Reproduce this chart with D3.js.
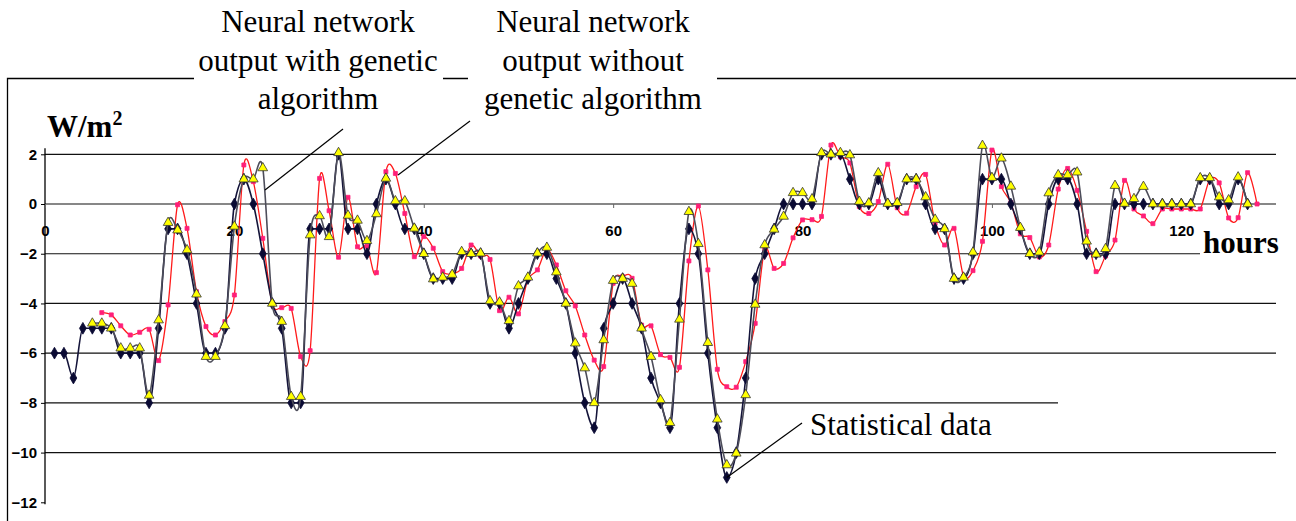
<!DOCTYPE html>
<html>
<head>
<meta charset="utf-8">
<script src="https://cdn.jsdelivr.net/npm/d3@7"></script>
<style>
  body { margin: 0; background: #fff; }
  .tick text { font-family: "Liberation Sans Narrow", "Arial Narrow", "Liberation Sans", sans-serif; font-weight: bold; font-size: 15px; fill: #000; }
  .label { font-family: "Liberation Serif", "Times New Roman", serif; font-size: 31px; fill: #000; }
</style>
</head>
<body>
<script>
// hour of the first value in each series
const statStart = 1
const gaStart = 5
const nnStart = 6

// Statistical data, hours 1..127
const statistical = [
  -6, -6, -7, -5, -5, -5, -5, -6, -6, -6,
  -8, -5, -1, -1, -2, -4, -6, -6, -5, 0,
  1, 0, -2, -4, -5, -8, -8, -1, -1, -1,
  2, -1, -1, -2, 0, 1, 0, -1, -1, -2,
  -3, -3, -3, -2, -2, -2, -4, -4, -5, -4,
  -3, -2, -2, -3, -4, -6, -8, -9, -5, -4,
  -3, -4, -5, -7, -8, -9, -4, -1, -2, -6,
  -9, -11, -10, -7, -3, -2, -1, 0, 0, 0,
  0, 2, 2, 2, 1, 0, 0, 1, 0, 0,
  1, 1, 0, -1, -1, -3, -3, -2, 1, 1,
  1, 0, -1, -2, -2, 0, 1, 1, 0, -2,
  -2, -2, 0, 0, 0, 0, 0, 0, 0, 0,
  0, 1, 1, 0, 0, 1, 0
]

// Neural network output with genetic algorithm, hours 5..127
const withGA = [
  -4.8, -4.8, -5, -5.8, -5.8, -5.8,
  -7.7, -4.67, -0.75, -1.05, -1.85, -3.63, -6.14, -6.14, -4.9, -0.9,
  1, 1, 1.45, -4, -4.73, -7.75, -7.75, -1.25, -0.48, -1.32,
  2.06, -0.46, -0.66, -1.48, -0.4, 1.03, 0.12, 0.12, -0.98, -2,
  -3.02, -2.95, -2.84, -1.92, -2, -1.98, -3.9, -3.95, -4.7, -3.3,
  -2.95, -1.98, -1.75, -2.74, -4, -5.6, -6.6, -8, -5.47, -3.08,
  -3, -3.2, -5, -6.14, -7.88, -8.8, -4.64, -0.31, -1.6, -5.58,
  -8.66, -10.5, -10.03, -7.68, -4.04, -1.65, -1.02, -0.5, 0.45, 0.45,
  0.2, 2.06, 2, 2.06, 1.97, 0.1, 0.04, 1.25, 0.02, 0.05,
  1, 1, 0.28, -0.62, -1, -3, -2.95, -1.94, 2.35, 1.06,
  1.84, 0.71, -0.95, -2, -1.94, 0.44, 1.17, 1.17, 1.28, -1.5,
  -2.02, -1.8, 0.74, 0.02, 0.21, 0.7, 0, 0, 0, 0,
  0, 1.05, 1.05, 0.28, 0.16, 1.08, 0
]

// Neural network output without genetic algorithm, hours 6..128
const withoutGA = [
  -4.37, -4.46, -4.9, -5.27, -5.16,
  -5.04, -6.3, -4.06, -0.03, -0.98, -3.53, -4.93, -5.27, -4.73, -3.66,
  1.57, 0.9, -1.38, -4.02, -4.17, -4.2, -6.14, -5.9, 1.03, -0.27,
  -2.14, 0.27, -1.72, -1.7, -2.76, 1.3, 1.23, -0.38, -2.12, -1.31,
  -1.78, -2.72, -2.8, -2.59, -1.65, -2.09, -2.23, -4.29, -3.75, -4.42,
  -3.03, -2.65, -1.82, -2.45, -3.49, -4.1, -5.27, -6.28, -6.54, -3.19,
  -2.92, -2.99, -4.87, -4.9, -6.06, -6.17, -6.57, -2.29, -0.08, -2.65,
  -6.65, -7.35, -7.37, -6.34, -4.8, -1.82, -2.59, -2.39, -1.36, -0.64,
  -0.63, -0.5, 2.37, 1.9, 1.65, -0.1, -0.38, 0.1, 1.6, -0.15,
  -0.37, 0.7, 1.19, -0.78, -1.65, -0.98, -2.9, -2.68, -1.5, 2.17,
  0.7, 0.05, -1.2, -1.35, -2.13, -1.65, 0.6, 1.43, 0.55, -1.1,
  -2.72, -2.09, -1.45, 0.95, -0.2, -0.48, -0.79, -0.2, -0.2, -0.2,
  -0.2, -0.2, 0.98, 0.85, -0.56, -0.55, 1.26, 0
]

const xTicks = [0, 20, 40, 60, 80, 100, 120]
const yTicks = [-12, -10, -8, -6, -4, -2, 0, 2]
const gridValues = [-10, -8, -6, -4, -2, 0, 2]

const width = 1296
const height = 521

//Scales
const x = d3.scaleLinear().domain([0, 130]).range([45, 1276])
const y = d3.scaleLinear().domain([-12, 2]).range([502.3, 154.3])

const svg = d3.select("body").append("svg")
  .attr("width", width)
  .attr("height", height)

// outer frame
svg.append("path")
  .attr("d", "M7.5,521V78.5H1296")
  .attr("fill", "none")
  .attr("stroke", "#000")
  .attr("stroke-width", 1.3)

//gridlines
svg.append("g")
  .selectAll("line")
  .data(gridValues)
  .join("line")
  .attr("x1", x(0))
  .attr("x2", x(130))
  .attr("y1", d => y(d))
  .attr("y2", d => y(d))
  .attr("stroke", "#111")
  .attr("stroke-width", 1.2)

//axes
svg.append("line")
  .attr("x1", x(0)).attr("x2", x(0))
  .attr("y1", y(2) - 6).attr("y2", y(-12) + 2)
  .attr("stroke", "#000")
  .attr("stroke-width", 1.3)

const yAxis = svg.append("g")
  .attr("transform", "translate(" + x(0) + ",0)")
  .call(d3.axisLeft(y).tickValues(yTicks).tickSize(4).tickSizeOuter(0).tickPadding(4).tickFormat(d3.format("d")))
yAxis.select(".domain").remove()

const xAxis = svg.append("g")
  .attr("transform", "translate(0," + y(0) + ")")
  .call(d3.axisBottom(x).tickValues(xTicks).tickSize(4).tickSizeOuter(0).tickPadding(17))
xAxis.select(".domain").remove()
xAxis.selectAll(".tick line").attr("stroke", "#666")

//series
function points(values, start) {
  return values.map((v, i) => ({hour: start + i, value: v}))
}

const smooth = d3.line()
  .x(d => x(d.hour))
  .y(d => y(d.value))
  .curve(d3.curveCardinal.tension(0.1))

const flat = d3.line()
  .x(d => x(d.hour))
  .y(d => y(d.value))
  .curve(d3.curveMonotoneX)

const series = [
  {data: points(withoutGA, nnStart), line: smooth, stroke: "#ff1a1a", width: 1.3, symbol: d3.symbolSquare, size: 16, fill: "#ff1f78", mstroke: "#ff1f78"},
  {data: points(statistical, statStart), line: flat, stroke: "#14143a", width: 1.6, symbol: d3.symbolDiamond, size: 40, fill: "#0a0a33", mstroke: "#0a0a33"},
  {data: points(withGA, gaStart), line: smooth, stroke: "#4d4d5a", width: 1.6, symbol: d3.symbolTriangle, size: 40, fill: "#ffff00", mstroke: "#333"}
]

series.forEach(s => {
  svg.append("path")
    .datum(s.data)
    .attr("d", s.line)
    .attr("fill", "none")
    .attr("stroke", s.stroke)
    .attr("stroke-width", s.width)

  svg.append("g")
    .selectAll("path")
    .data(s.data)
    .join("path")
    .attr("transform", d => "translate(" + x(d.hour) + "," + y(d.value) + ")")
    .attr("d", d3.symbol().type(s.symbol).size(s.size))
    .attr("fill", s.fill)
    .attr("stroke", s.mstroke)
    .attr("stroke-width", 0.8)
})

//labels
svg.append("text")
  .attr("class", "label")
  .attr("x", 47)
  .attr("y", 137)
  .attr("font-weight", "bold")
  .text("W/m")
  .append("tspan")
  .attr("font-size", 20)
  .attr("dy", -12)
  .text("2")

// hours label on white box
svg.append("rect")
  .attr("x", 1200).attr("y", 226).attr("width", 90).attr("height", 34)
  .attr("fill", "#fff")
svg.append("text")
  .attr("class", "label")
  .attr("x", 1203)
  .attr("y", 253)
  .attr("font-weight", "bold")
  .text("hours")

// callouts
const callouts = [
  {lines: ["Neural network", "output with genetic", "algorithm"], cx: 318, box: [194, 443], from: [343, 129], to: [265, 190]},
  {lines: ["Neural network", "output without", "genetic algorithm"], cx: 593, box: [468, 717], from: [470, 121], to: [398, 175]}
]

callouts.forEach(c => {
  svg.append("rect")
    .attr("x", c.box[0]).attr("y", 0)
    .attr("width", c.box[1] - c.box[0]).attr("height", 118)
    .attr("fill", "#fff")
  svg.append("text")
    .attr("class", "label")
    .attr("text-anchor", "middle")
    .selectAll("tspan")
    .data(c.lines)
    .join("tspan")
    .attr("x", c.cx)
    .attr("y", (d, i) => 32 + i * 38.5)
    .text(d => d)
  svg.append("line")
    .attr("x1", c.from[0]).attr("y1", c.from[1])
    .attr("x2", c.to[0]).attr("y2", c.to[1])
    .attr("stroke", "#000")
    .attr("stroke-width", 1.2)
})

// statistical data callout, its box hides the right end of the -8 gridline
svg.append("line")
  .attr("x1", 802).attr("y1", 423)
  .attr("x2", x(72)).attr("y2", y(-11))
  .attr("stroke", "#000")
  .attr("stroke-width", 1.2)
svg.append("rect")
  .attr("x", 805).attr("y", 405).attr("width", 200).attr("height", 40)
  .attr("fill", "#fff")
svg.append("rect")
  .attr("x", 1058).attr("y", 398).attr("width", 222).attr("height", 10)
  .attr("fill", "#fff")
svg.append("text")
  .attr("class", "label")
  .attr("x", 810)
  .attr("y", 435)
  .text("Statistical data")
</script>
</body>
</html>
